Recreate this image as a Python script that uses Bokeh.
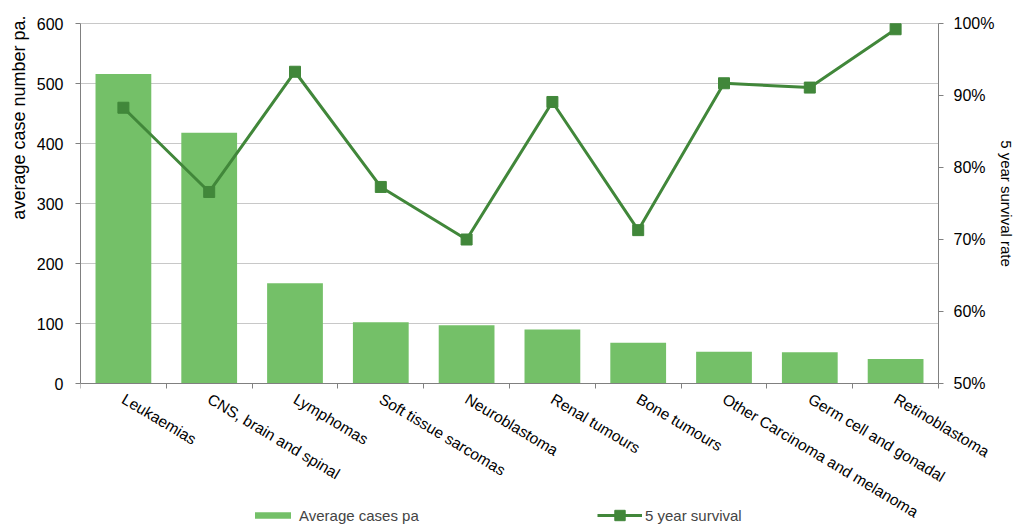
import math
from bokeh.plotting import figure
from bokeh.models import (Range1d, LinearAxis, FixedTicker, NumeralTickFormatter,
                          Legend, LegendItem, ColumnDataSource, Title, Grid)
from bokeh.embed import file_html
from bokeh.resources import INLINE

categories = ["Leukaemias", "CNS, brain and spinal", "Lymphomas", "Soft tissue sarcomas",
              "Neuroblastoma", "Renal tumours", "Bone tumours",
              "Other Carcinoma and melanoma", "Germ cell and gonadal", "Retinoblastoma"]
avg_cases = [516, 418, 167, 102, 97, 90, 68, 53, 52, 41]
survival = [0.883, 0.766, 0.933, 0.773, 0.700, 0.891, 0.713, 0.917, 0.911, 0.992]
left_ticks = [0, 100, 200, 300, 400, 500, 600]
right_ticks = [0.5, 0.6, 0.7, 0.8, 0.9, 1.0]

BAR = "#74C068"
LINE = "#41873A"
AX = "#808080"
FONT = "Liberation Sans"

# layout geometry (pixels)
W, H = 1026, 524
TOP, LEFT = 23, 80        # top of the value band / frame left edge
AXIS_PX = 360             # pixel height of the value band
PLOT_W = 858              # pixel width of the category band
LEFT_MAX, RIGHT_MIN, RIGHT_MAX = 600, 0.5, 1.0

n = len(categories)
frame_w = W - LEFT
left_per_px = LEFT_MAX / AXIS_PX
right_per_px = (RIGHT_MAX - RIGHT_MIN) / AXIS_PX
left_start = LEFT_MAX - (H - TOP) * left_per_px
left_end = LEFT_MAX + TOP * left_per_px
right_start = RIGHT_MAX - (H - TOP) * right_per_px
right_end = RIGHT_MAX + TOP * right_per_px
x_end = -0.5 + frame_w * n / PLOT_W

xs = list(range(n))
bounds_x = [i - 0.5 for i in range(n + 1)]
src = ColumnDataSource(dict(x=xs, cases=avg_cases, surv=survival))

p = figure(width=W, height=H, output_backend="svg", toolbar_location=None,
           x_range=Range1d(-0.5, x_end), y_range=Range1d(left_start, left_end),
           x_axis_location=None, y_axis_location=None,
           min_border_left=LEFT, min_border_right=0, min_border_top=0, min_border_bottom=0)
p.outline_line_color = None
p.background_fill_color = "white"
p.border_fill_color = "white"
p.extra_y_ranges = {"surv": Range1d(right_start, right_end)}

# left axis
ya = LinearAxis(ticker=FixedTicker(ticks=left_ticks, minor_ticks=[]), bounds=(0, LEFT_MAX))
ya.major_tick_out = 5
ya.major_tick_in = 0
ya.minor_tick_out = 0
ya.minor_tick_in = 0
ya.axis_line_color = AX
ya.major_tick_line_color = AX
ya.major_label_text_font = FONT
ya.major_label_text_font_size = "16px"
ya.major_label_text_color = "black"
ya.major_label_standoff = 12
p.add_layout(ya, "left")

p.add_layout(Title(text="average case number pa.", align="right", offset=15,
                   text_font=FONT, text_font_size="18px", text_font_style="normal",
                   text_color="black", standoff=10), "left")

# right axis, pinned at the right end of the category band
ra = LinearAxis(y_range_name="surv", bounds=(RIGHT_MIN, RIGHT_MAX), fixed_location=n - 0.5,
                ticker=FixedTicker(ticks=right_ticks, minor_ticks=[]),
                formatter=NumeralTickFormatter(format="0%"))
ra.major_tick_out = 5
ra.major_tick_in = 0
ra.minor_tick_out = 0
ra.minor_tick_in = 0
ra.axis_line_color = AX
ra.major_tick_line_color = AX
ra.major_label_text_font = FONT
ra.major_label_text_font_size = "16px"
ra.major_label_text_color = "black"
ra.major_label_standoff = 10
ra.axis_label = "5 year survival rate"
ra.axis_label_text_font = FONT
ra.axis_label_text_font_style = "normal"
ra.axis_label_text_font_size = "15px"
ra.axis_label_text_color = "black"
ra.axis_label_standoff = 1
p.add_layout(ra, "right")

# category axis pinned at value 0
xa = LinearAxis(fixed_location=0, bounds=(-0.5, n - 0.5),
                ticker=FixedTicker(ticks=xs, minor_ticks=bounds_x))
xa.major_label_overrides = {i: c for i, c in zip(xs, categories)}
xa.major_tick_out = 0
xa.major_tick_in = 0
xa.minor_tick_out = 5
xa.minor_tick_in = 0
xa.minor_tick_line_color = AX
xa.axis_line_color = AX
xa.major_label_orientation = -0.54
xa.major_label_text_font = FONT
xa.major_label_text_font_size = "15.5px"
xa.major_label_text_color = "black"
xa.major_label_standoff = 9
p.add_layout(xa, "below")

p.xgrid.visible = False
p.ygrid.visible = False
p.add_layout(Grid(dimension=1, ticker=FixedTicker(ticks=left_ticks[1:]),
                  cross_bounds=(-0.5, n - 0.5),
                  grid_line_color="#C8C8C8", grid_line_width=1))

bars = p.vbar(x="x", top="cases", width=0.65, source=src, fill_color=BAR, line_color=None)
ln = p.line(x="x", y="surv", source=src, y_range_name="surv", line_color=LINE, line_width=3)
sq = p.scatter(x="x", y="surv", source=src, y_range_name="surv", marker="square",
               size=11, fill_color=LINE, line_color=LINE)

leg1 = Legend(items=[LegendItem(label="Average cases pa", renderers=[bars])],
              location=(170, 0), orientation="horizontal", glyph_width=45, glyph_height=8,
              label_height=18, label_standoff=4, padding=0, margin=0, spacing=0,
              border_line_color=None, background_fill_alpha=0,
              label_text_font=FONT, label_text_font_size="15px")
leg2 = Legend(items=[LegendItem(label="5 year survival", renderers=[ln, sq])],
              location=(517, -4), orientation="horizontal", glyph_width=45, glyph_height=26,
              label_height=18, label_standoff=3, padding=0, margin=0, spacing=0,
              border_line_color=None, background_fill_alpha=0,
              label_text_font=FONT, label_text_font_size="15px")
p.add_layout(leg1, "center")
p.add_layout(leg2, "center")

open("out.html", "w").write(file_html(p, INLINE))
